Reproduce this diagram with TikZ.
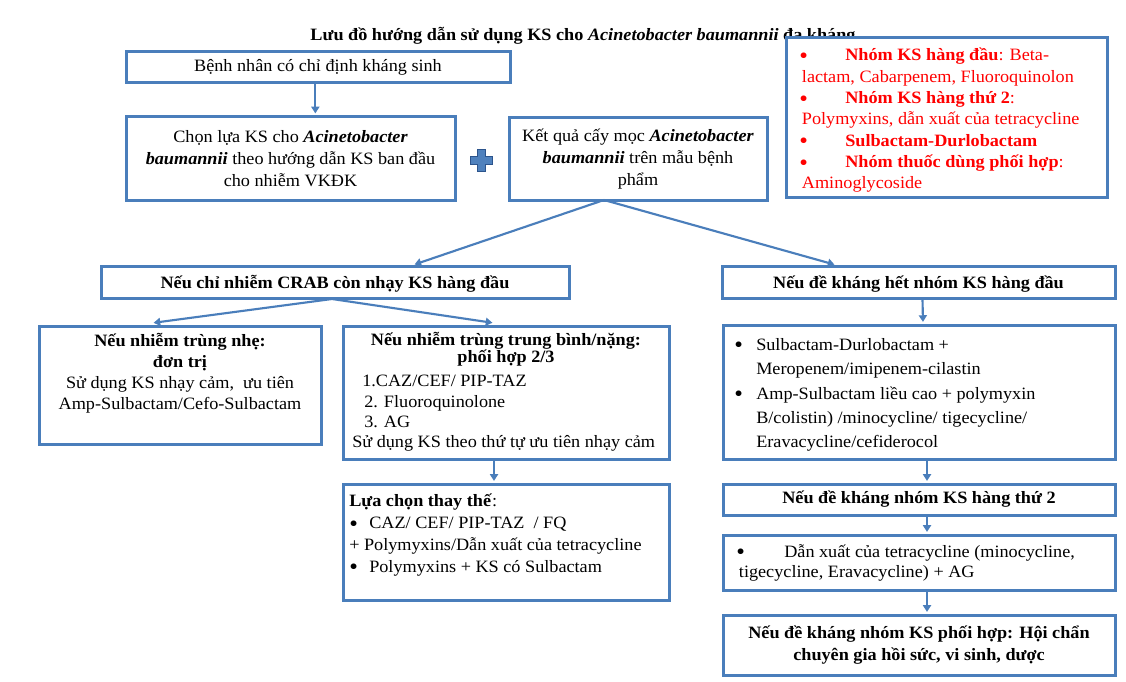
\documentclass[tikz,border=0pt]{standalone}
\usepackage{fontspec}
\setmainfont[FakeStretch=1.05]{Liberation Serif}
\usetikzlibrary{arrows.meta,positioning,calc}
\definecolor{frameblue}{RGB}{74,126,187}
\definecolor{plusblue}{RGB}{79,129,189}
\definecolor{plusdark}{RGB}{44,84,140}
\definecolor{legendred}{RGB}{255,0,0}
\newcommand{\bigbul}{\raisebox{-1.9pt}{\scalebox{1.35}{\textbullet}}}

\begin{document}
\begin{tikzpicture}[x=0.75pt,y=-0.75pt]

\def\bsize{\fontsize{13}{16}\selectfont}

\tikzset{line/.style={draw=frameblue,line width=2.25pt}}
\tikzset{arrow/.style={draw=frameblue,line width=1.6pt,-{Triangle[width=6pt,length=5pt]},shorten >=1.2pt}}
\tikzset{textnode/.style={inner sep=0pt,font=\bsize}}
\tikzset{box/.style={line,fill=white,rectangle,inner sep=2pt,font=\bsize,align=center}}
\tikzset{headbox/.style={box,font=\bfseries\bsize}}

\useasboundingbox (0,0) rectangle (1126,681);

\node[textnode,font=\bfseries\bsize] (title) at (583,36) {Lưu đồ hướng dẫn sử dụng KS cho \textit{Acinetobacter baumannii} đa kháng};

% top row
\node[box,minimum width=288pt,minimum height=23.25pt] (start) at (318,67.5) {Bệnh nhân có chỉ định kháng sinh};
\node[box,minimum width=246.75pt,minimum height=63pt,font=\fontsize{13}{16.5}\selectfont] (choose) at (290.5,158.5)
  {Chọn lựa KS cho \textbf{\textit{Acinetobacter}}\\\textbf{\textit{baumannii}} theo hướng dẫn KS ban đầu\\cho nhiễm VKĐK};
\node[box,minimum width=193.5pt,minimum height=62.25pt,font=\fontsize{13}{16.5}\selectfont] (culture) at (638,159)
  {Kết quả cấy mọc \textbf{\textit{Acinetobacter}}\\\textbf{\textit{baumannii}} trên mẫu bệnh\\phẩm};

\fill[plusblue,draw=plusdark,line width=0.6pt] (477,149) -- (485,149) -- (485,156) -- (492,156) -- (492,164) -- (485,164)
  -- (485,171) -- (477,171) -- (477,164) -- (470,164) -- (470,156) -- (477,156) -- cycle;

% legend
\node[box,minimum width=240.75pt,minimum height=119.25pt] (legend) at (946.5,117.5) {};
\node[textnode,anchor=north west,align=left,text=legendred] (legendtxt) at (799,48)
  {\makebox[34.5pt][l]{\bigbul}\textbf{Nhóm KS hàng đầu}: Beta-\\
   \hspace*{2pt}lactam, Cabarpenem, Fluoroquinolon\\
   \makebox[34.5pt][l]{\bigbul}\textbf{Nhóm KS hàng thứ 2}:\\
   \hspace*{2pt}Polymyxins, dẫn xuất của tetracycline\\
   \makebox[34.5pt][l]{\bigbul}\textbf{Sulbactam-Durlobactam}\\
   \makebox[34.5pt][l]{\bigbul}\textbf{Nhóm thuốc dùng phối hợp}:\\
   \hspace*{2pt}Aminoglycoside};

% second row
\node[headbox,minimum width=351pt,minimum height=24pt,text depth=0pt] (crab) at (335,282) {Nếu chỉ nhiễm CRAB còn nhạy KS hàng đầu};
\node[headbox,minimum width=294.75pt,minimum height=24pt,text depth=0pt] (resist) at (918.5,282) {Nếu đề kháng hết nhóm KS hàng đầu};

\coordinate (split) at (604,200);
\coordinate (crabin) at (413,265);
\coordinate (resistin) at (836,265);
\coordinate (fork) at (332,299);
\coordinate (mildin) at (152,323);
\coordinate (severein) at (494,323);

% left branch
\node[box,minimum width=211.5pt,minimum height=88.5pt] (mild) at (180,385) {};
\node[textnode,anchor=north,align=center,font=\fontsize{13}{15.7}\selectfont] (mildtxt) at (180,333)
  {\textbf{Nếu nhiễm trùng nhẹ:}\\\textbf{đơn trị}\\Sử dụng KS nhạy cảm,\ \ ưu tiên\\Amp-Sulbactam/Cefo-Sulbactam};

\node[box,minimum width=244.5pt,minimum height=99.75pt] (severe) at (506,392.5) {};
\node[textnode,anchor=north,align=center,font=\bfseries\fontsize{13}{13}\selectfont] (severetitle) at (506,332)
  {Nếu nhiễm trùng trung bình/nặng:\\phối hợp 2/3};
\node[textnode,anchor=north west,align=left,font=\fontsize{13}{15.3}\selectfont] (severelist) at (352,375)
  {\hspace*{7.5pt}1.CAZ/CEF/ PIP-TAZ\\
   \hspace*{9pt}2. Fluoroquinolone\\
   \hspace*{9pt}3. AG\\
   Sử dụng KS theo thứ tự ưu tiên nhạy cảm};

\node[box,minimum width=244.5pt,minimum height=87pt] (alt) at (506,542) {};
\node[textnode,anchor=north west,align=left,font=\fontsize{13}{16.3}\selectfont] (alttxt) at (349,494)
  {\textbf{Lựa chọn thay thế}:\\
   \makebox[15pt][l]{\bigbul}CAZ/ CEF/ PIP-TAZ\ \ / FQ\\
   + Polymyxins/Dẫn xuất của tetracycline\\
   \makebox[15pt][l]{\bigbul}Polymyxins + KS có Sulbactam};

% right branch
\node[box,minimum width=294pt,minimum height=100.5pt] (first) at (919,392) {};
\node[textnode,anchor=north west,align=left,font=\fontsize{13}{18.3}\selectfont] (firsttxt) at (734,338)
  {\makebox[16.5pt][l]{\bigbul}Sulbactam-Durlobactam +\\
   \hspace*{16.5pt}Meropenem/imipenem-cilastin\\
   \makebox[16.5pt][l]{\bigbul}Amp-Sulbactam liều cao + polymyxin\\
   \hspace*{16.5pt}B/colistin) /minocycline/ tigecycline/\\
   \hspace*{16.5pt}Eravacycline/cefiderocol};

\node[headbox,minimum width=294pt,minimum height=23.25pt] (second) at (919,499.5) {Nếu đề kháng nhóm KS hàng thứ 2};

\node[box,minimum width=294pt,minimum height=41.25pt] (tetra) at (919,562.5) {};
\node[textnode,anchor=north west,align=left,font=\fontsize{13}{15}\selectfont] (tetratxt) at (736,544)
  {\makebox[36pt][l]{\bigbul}Dẫn xuất của tetracycline (minocycline,\\
   \hspace*{2pt}tigecycline, Eravacycline) + AG};

\node[headbox,minimum width=294pt,minimum height=45pt,font=\bfseries\fontsize{13}{16.5}\selectfont] (consult) at (919,645)
  {Nếu đề kháng nhóm KS phối hợp: Hội chẩn\\chuyên gia hồi sức, vi sinh, dược};

% connectors
\draw[arrow] ([xshift=-2pt]start.south) -- ([xshift=-2pt]start.south |- choose.north);
\draw[arrow] (split) -- (crabin);
\draw[arrow] (split) -- (resistin);
\draw[arrow] (fork) -- (mildin);
\draw[arrow] (fork) -- (severein);
\draw[arrow] ([xshift=-9pt]severe.south) -- ([xshift=-9pt]alt.north);
\draw[arrow] ([xshift=3pt]resist.south) -- ([xshift=3pt]first.north);
\draw[arrow] ([xshift=6pt]first.south) -- ([xshift=6pt]second.north);
\draw[arrow] ([xshift=6pt]second.south) -- ([xshift=6pt]tetra.north);
\draw[arrow] ([xshift=6pt]tetra.south) -- ([xshift=6pt]consult.north);

\end{tikzpicture}
\end{document}
